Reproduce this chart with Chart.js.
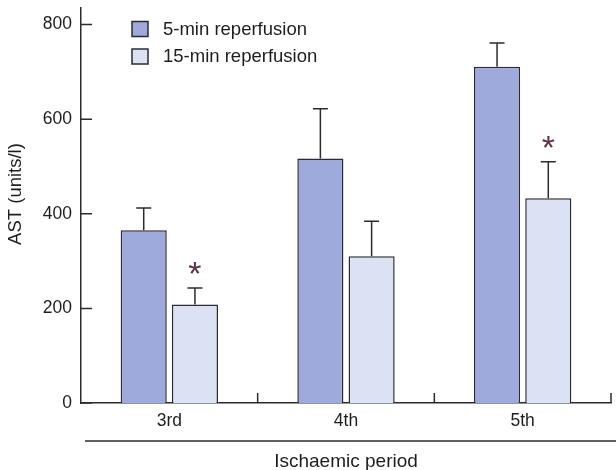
<!DOCTYPE html>
<html>
<head>
<meta charset="utf-8">
<script src="https://cdn.jsdelivr.net/npm/chart.js@4"></script>
<style>
  html, body { margin: 0; padding: 0; background: #fff; }
  #wrap { width: 616px; height: 470px; }
</style>
</head>
<body>
<div id="wrap"><canvas id="chart"></canvas></div>
<script>
// Data
const periods = ['3rd', '4th', '5th'];
const reperf5 = [365, 517, 711];
const reperf5Err = [47, 105, 50];
const reperf15 = [208, 310, 433];
const reperf15Err = [35, 74, 77];
const sig15 = [true, false, true];
const yTicks = [0, 200, 400, 600, 800];

const FONT = '"Liberation Sans", Arial, Helvetica, sans-serif';
const INK = '#2b2b33';
const TEXT = '#1e1e1e';

// error bars, asterisks, inward ticks, legend, axis decorations
const extras = {
    id: 'extras',
    afterDatasetsDraw(chart) {
        const ctx = chart.ctx;
        const y = chart.scales.y;
        const x = chart.scales.x;
        const area = chart.chartArea;

        ctx.save();
        ctx.strokeStyle = INK;
        ctx.lineWidth = 1.5;

        // error bars
        chart.data.datasets.forEach((ds, di) => {
            const meta = chart.getDatasetMeta(di);
            meta.data.forEach((bar, i) => {
                const top = y.getPixelForValue(ds.data[i] + ds.errors[i]);
                ctx.beginPath();
                ctx.moveTo(bar.x, bar.y);
                ctx.lineTo(bar.x, top);
                ctx.moveTo(bar.x - 7.5, top);
                ctx.lineTo(bar.x + 7.5, top);
                ctx.stroke();

                if (ds.sig && ds.sig[i]) {
                    ctx.fillStyle = '#5e3448';
                    ctx.font = '34px ' + FONT;
                    ctx.textAlign = 'center';
                    ctx.textBaseline = 'alphabetic';
                    ctx.fillText('*', bar.x, top - 22 + 19);
                }
            });
        });

        // y ticks pointing inward
        ctx.beginPath();
        yTicks.forEach(v => {
            const py = y.getPixelForValue(v);
            ctx.moveTo(area.left, py);
            ctx.lineTo(area.left + 11, py);
        });
        // x ticks between categories, pointing up
        for (let i = 1; i <= periods.length; i++) {
            const px = i < periods.length
                ? (x.getPixelForValue(i - 1) + x.getPixelForValue(i)) / 2
                : area.right;
            ctx.moveTo(px, area.bottom);
            ctx.lineTo(px, area.bottom - 10);
        }
        ctx.stroke();

        // rule under the category labels
        ctx.beginPath();
        ctx.moveTo(area.left + 4, area.bottom + 38);
        ctx.lineTo(chart.width, area.bottom + 38);
        ctx.stroke();

        // legend
        ctx.font = '18.5px ' + FONT;
        ctx.textAlign = 'left';
        ctx.textBaseline = 'middle';
        chart.data.datasets.forEach((ds, di) => {
            const bx = area.left + 51;
            const by = 21.5 + di * 27.5;
            ctx.fillStyle = ds.backgroundColor;
            ctx.fillRect(bx, by, 16, 15);
            ctx.strokeRect(bx, by, 16, 15);
            ctx.fillStyle = TEXT;
            ctx.fillText(ds.label, bx + 31, by + 8);
        });

        // y title
        ctx.font = '18.5px ' + FONT;
        ctx.translate(16, 194);
        ctx.rotate(-Math.PI / 2);
        ctx.textAlign = 'center';
        ctx.fillText('AST (units/l)', 0, 0);
        ctx.restore();
    }
};

new Chart(document.getElementById('chart'), {
    type: 'bar',
    data: {
        labels: periods,
        datasets: [
            {
                label: '5-min reperfusion',
                data: reperf5,
                errors: reperf5Err,
                backgroundColor: '#9ea9dc',
                borderColor: INK,
                borderWidth: 1.5
            },
            {
                label: '15-min reperfusion',
                data: reperf15,
                errors: reperf15Err,
                sig: sig15,
                backgroundColor: '#dbe2f4',
                borderColor: INK,
                borderWidth: 1.5
            }
        ]
    },
    options: {
        responsive: true,
        maintainAspectRatio: false,
        animation: false,
        categoryPercentage: 0.58,
        barPercentage: 0.9,
        layout: { padding: { top: 8, right: 5, left: 0, bottom: 0 } },
        plugins: {
            legend: { display: false },
            tooltip: { enabled: false }
        },
        scales: {
            x: {
                grid: { display: false, drawTicks: false },
                border: { color: INK, width: 1.5 },
                ticks: { color: TEXT, font: { family: FONT, size: 17.5 }, padding: 8 },
                title: {
                    display: true,
                    text: 'Ischaemic period',
                    color: TEXT,
                    font: { family: FONT, size: 19, lineHeight: 1 },
                    padding: { top: 0, bottom: -1 }
                },
                afterFit(scale) { scale.height = 67; scale.paddingLeft = 0; scale.paddingRight = 0; }
            },
            y: {
                min: 0,
                max: 835,
                grid: { display: false, drawTicks: false },
                border: { color: INK, width: 1.5 },
                ticks: { color: TEXT, font: { family: FONT, size: 17.5 }, padding: 9 },
                afterBuildTicks(scale) { scale.ticks = yTicks.map(v => ({ value: v })); },
                afterFit(scale) { scale.width = 81; scale.paddingTop = 0; scale.paddingBottom = 0; }
            }
        }
    },
    plugins: [extras]
});
</script>
</body>
</html>
